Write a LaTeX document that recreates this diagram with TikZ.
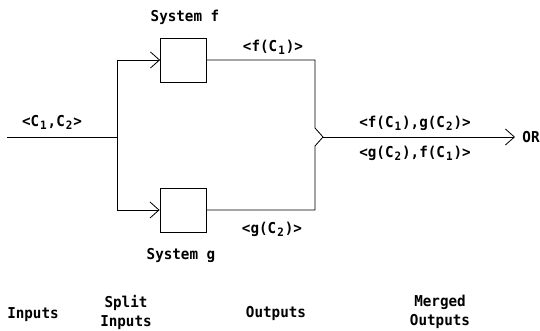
\documentclass[tikz,border=0pt]{standalone}
\usepackage{fontspec}
\setmonofont[FakeStretch=0.95]{DejaVu Sans Mono}
\usetikzlibrary{arrows.meta}
\newcommand{\lowsub}[1]{\makebox[0.57em]{\raisebox{-3pt}{\fontsize{11.5}{11.5}\selectfont #1}}}
\begin{document}
\begin{tikzpicture}[x=1pt,y=-1pt,
  lbl/.style={font=\ttfamily\bfseries\fontsize{15}{19}\selectfont,inner sep=0pt,align=center},
  sysbox/.style={draw,line width=0.8pt,minimum width=46pt,minimum height=44pt,inner sep=0pt},
  wire/.style={line width=0.8pt},
  openarrow/.style={-{Straight Barb[length=9pt,width=16pt,line width=0.8pt]}}]
\useasboundingbox (0,0) rectangle (540,331);
\coordinate (in) at (7,137);
\coordinate (sp) at (117,137);
\node[sysbox] (f) at (183.5,60) {};
\node[sysbox] (g) at (183,210) {};
\coordinate (tf) at (117,60);
\coordinate (tg) at (117,210);
\coordinate (fr) at (315,60);
\coordinate (gr) at (315,210);
\coordinate (fa) at (315,128);
\coordinate (ga) at (315,146);
\coordinate (m) at (323,137);
\coordinate (out) at (515,137);
\draw[wire] (in) -- (sp);
\draw[wire] (tf) -- (tg);
\draw[wire,openarrow] (tf) -- (f.west);
\draw[wire,openarrow] (tg) -- (g.west);
\draw[wire] (f.east) -- (fr) -- (fa) -- (m);
\draw[wire] (g.east) -- (gr) -- (ga) -- (m);
\draw[wire,openarrow] (m) -- (out);
\node[lbl] (sf) at (185,17) {System f};
\node[lbl] (sg) at (181,255) {System g};
\node[lbl] (cin) at (52,122) {<C\lowsub{1},C\lowsub{2}>};
\node[lbl] (fo) at (273,47) {<f(C\lowsub{1})>};
\node[lbl] (go) at (272,229) {<g(C\lowsub{2})>};
\node[lbl] (mo1) at (415,123) {<f(C\lowsub{1}),g(C\lowsub{2})>};
\node[lbl] (mo2) at (415,153) {<g(C\lowsub{2}),f(C\lowsub{1})>};
\node[lbl] (or) at (531,137) {OR};
\node[lbl] (l1) at (33,315) {Inputs};
\node[lbl] (l2) at (126,312) {Split\\Inputs};
\node[lbl] (l3) at (276,313) {Outputs};
\node[lbl] (l4) at (440,312) {Merged\\Outputs};
\end{tikzpicture}
\end{document}
